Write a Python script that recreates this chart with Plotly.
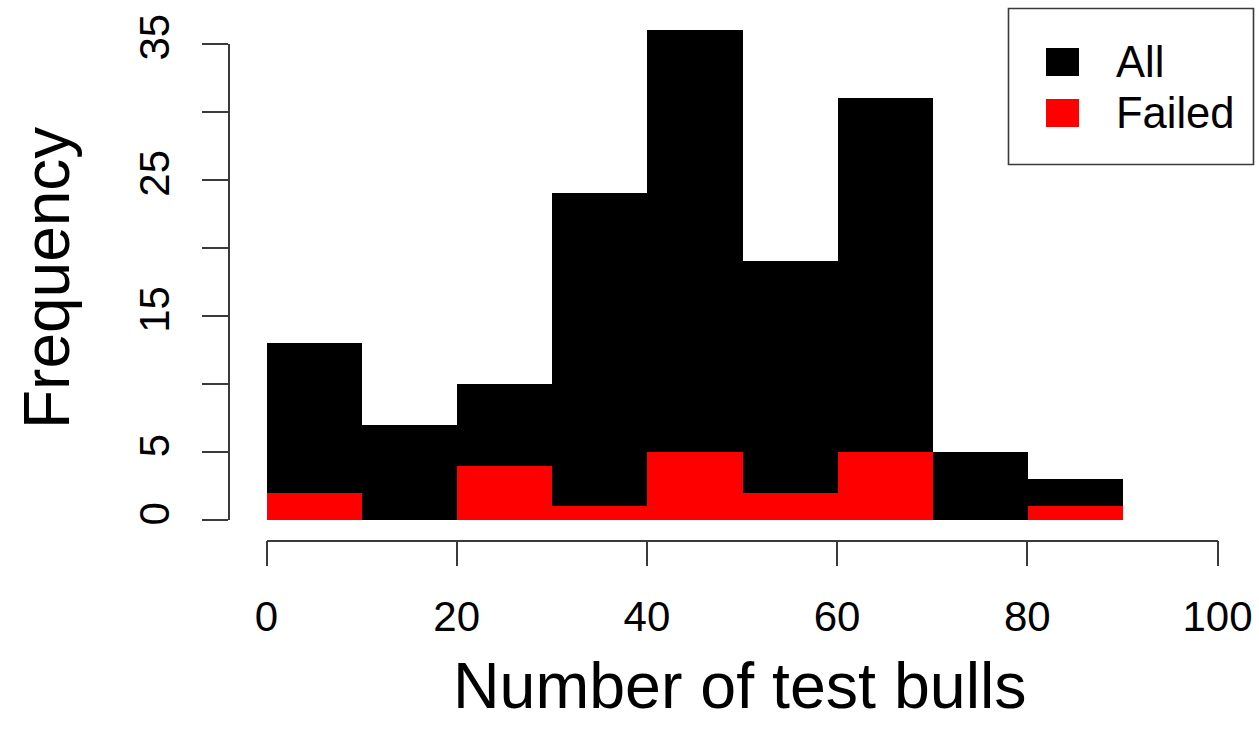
import plotly.graph_objects as go

# Histogram counts per 10-bull bin
bin_left = [0, 10, 20, 30, 40, 50, 60, 70, 80]
all_counts = [13, 7, 10, 24, 36, 19, 31, 5, 3]
failed_counts = [2, 0, 4, 1, 5, 2, 5, 0, 1]

x_ticks = [0, 20, 40, 60, 80, 100]
y_ticks = [0, 5, 10, 15, 20, 25, 30, 35]
y_tick_text = ["0", "5", "", "15", "", "25", "", "35"]

series_names = ["All", "Failed"]
series_colors = ["black", "red"]

W, H = 1259, 744
FONT = "Liberation Sans, Arial, Helvetica, sans-serif"
AXIS_COLOR = "#3a3a3a"


def fx(px):
    return px / W


def fy(py):
    return 1 - py / H


# pixel geometry of the plotting region
Y0_PX, Y35_PX = 520.0, 43.5
PX_PER_UNIT = (Y0_PX - Y35_PX) / 35.0
TOP_PX = 8.0

bin_width = 10
centers = [b + bin_width / 2 for b in bin_left]

fig = go.Figure()
for name, counts, color in zip(series_names, [all_counts, failed_counts], series_colors):
    fig.add_trace(go.Bar(
        x=centers, y=counts, width=[bin_width] * len(centers),
        marker=dict(color=color, line=dict(width=0)),
        name=name, showlegend=False, hoverinfo="x+y",
    ))

# carrier trace for the detached y axis
fig.add_trace(go.Scatter(x=[0], y=[0], xaxis="x", yaxis="y2", mode="markers",
                         marker=dict(opacity=0), showlegend=False, hoverinfo="skip"))

fig.update_layout(
    template="none",
    width=W, height=H, autosize=False,
    margin=dict(l=0, r=0, t=0, b=0, pad=0),
    paper_bgcolor="white", plot_bgcolor="rgba(0,0,0,0)",
    barmode="overlay", bargap=0,
    font=dict(family=FONT, color="black", size=42),
    xaxis=dict(
        domain=[fx(266.5), fx(1217.5)], range=[0, 100],
        anchor="free", position=fy(540.5), automargin=False,
        tickmode="array", tickvals=x_ticks,
        ticks="outside", ticklen=25, tickwidth=1.6, tickcolor=AXIS_COLOR,
        showline=True, linewidth=1.6, linecolor=AXIS_COLOR,
        showgrid=False, zeroline=False,
        tickfont=dict(size=42, family=FONT, color="black"),
        ticklabelstandoff=14,
    ),
    yaxis=dict(
        domain=[fy(Y0_PX), fy(TOP_PX)], range=[0, (Y0_PX - TOP_PX) / PX_PER_UNIT],
        visible=False, automargin=False,
    ),
    yaxis2=dict(
        domain=[fy(Y0_PX), fy(Y35_PX)], range=[0, 35],
        anchor="free", position=fx(228.5), automargin=False,
        tickmode="array", tickvals=y_ticks, ticktext=y_tick_text,
        tickangle=-90,
        ticks="outside", ticklen=26, tickwidth=1.6, tickcolor=AXIS_COLOR,
        showline=True, linewidth=1.6, linecolor=AXIS_COLOR,
        showgrid=False, zeroline=False,
        tickfont=dict(size=42, family=FONT, color="black"),
        ticklabelstandoff=16,
    ),
)

# axis titles
fig.add_annotation(text="Number of test bulls", xref="paper", yref="paper",
                   x=fx(740), y=fy(686), xanchor="center", yanchor="middle",
                   showarrow=False, font=dict(size=64.5, family=FONT, color="black"))
fig.add_annotation(text="Frequency", xref="paper", yref="paper",
                   x=fx(47), y=fy(278), xanchor="center", yanchor="middle",
                   textangle=-90, showarrow=False,
                   font=dict(size=64, family=FONT, color="black"))

# legend box with filled keys
fig.add_shape(type="rect", xref="paper", yref="paper",
              x0=fx(1008.5), x1=fx(1253.5), y0=fy(164.5), y1=fy(8.5),
              line=dict(color=AXIS_COLOR, width=1.6), fillcolor="white")
key_rows = [(48, 76), (99, 127)]
for (top, bottom), name, color in zip(key_rows, series_names, series_colors):
    fig.add_shape(type="rect", xref="paper", yref="paper",
                  x0=fx(1046), x1=fx(1079), y0=fy(bottom), y1=fy(top),
                  line=dict(width=0), fillcolor=color)
    fig.add_annotation(text=name, xref="paper", yref="paper",
                       x=fx(1114), y=fy((top + bottom) / 2), xanchor="left",
                       yanchor="middle", showarrow=False,
                       font=dict(size=43.5, family=FONT, color="black"))

fig.write_html("out.html")
